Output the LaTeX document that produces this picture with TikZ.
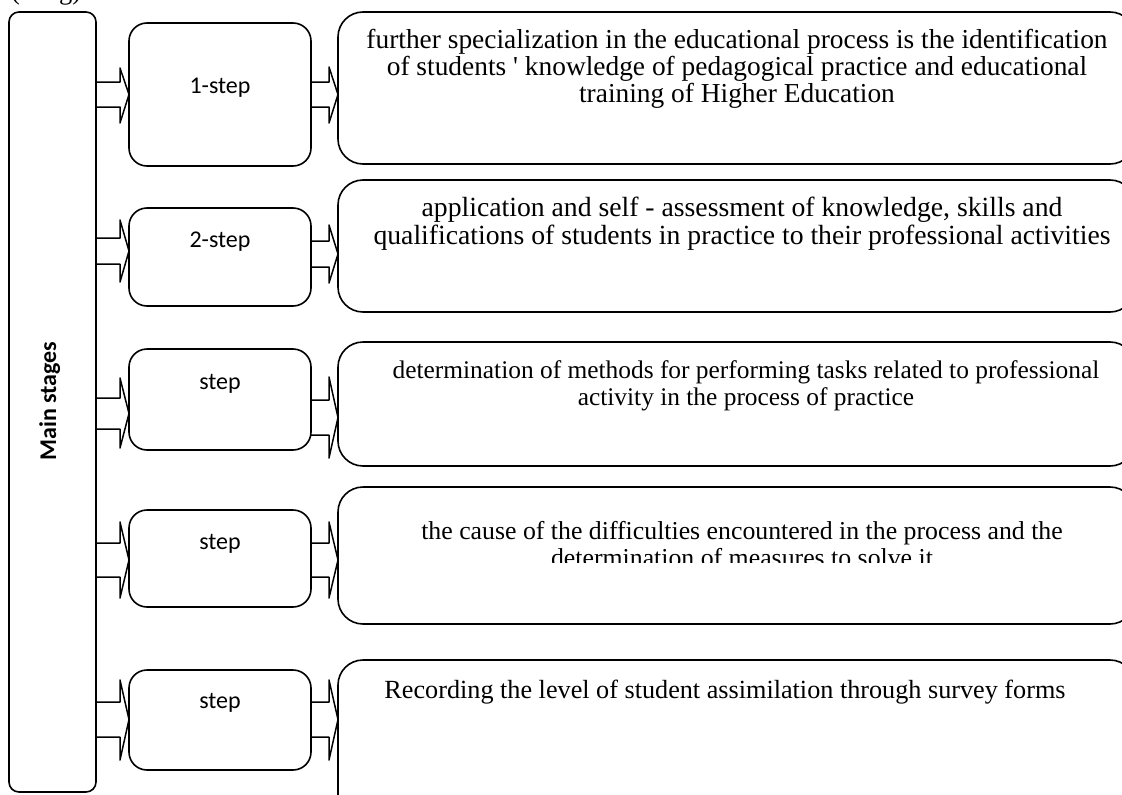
\documentclass[tikz,border=0pt]{standalone}
\usepackage{fontspec}
\setmainfont{Liberation Serif}
\newfontfamily\labelfont{Carlito}
\usetikzlibrary{calc}

% block arrow from the east side of #1 to the west side of #2
% #3/#4: shaft top/bottom, #5/#6: head top/bottom (y values)
\newcommand\blockarr[6]{%
  \pgfmathsetmacro\tipy{(#3+#4)/2}%
  \draw[arrowline] (#1.east |- 0,#3) -- ($(#2.west |- 0,#3)+(-9,0)$)
    -- ($(#2.west |- 0,#5)+(-9,0)$) -- (#2.west |- 0,\tipy)
    -- ($(#2.west |- 0,#6)+(-9,0)$) -- ($(#2.west |- 0,#4)+(-9,0)$)
    -- (#1.east |- 0,#4);
}

\begin{document}
\begin{tikzpicture}[x=1pt,y=-1pt,
  box/.style={draw=black, line width=1.6pt, inner sep=0pt, outer sep=0pt},
  mainbox/.style={box, rounded corners=10pt, minimum width=87pt},
  stepbox/.style={box, rounded corners=18pt, minimum width=182pt},
  textbox/.style={box, rounded corners=25pt, minimum width=797pt, anchor=north west},
  steplabel/.style={font=\labelfont\fontsize{24}{28}\selectfont, anchor=base, inner sep=0pt},
  boxtext/.style={align=center, anchor=north, inner sep=0pt},
  arrowline/.style={draw=black, line width=1.5pt, line join=round},
]
\useasboundingbox (0,0) rectangle (1122,795);
\clip (0,0) rectangle (1122,795);

% caption fragment at the top edge
\node[font=\fontsize{26.5}{28}\selectfont, anchor=base west, inner sep=0pt] (capa) at (11,-1) {(};
\node[font=\fontsize{26.5}{28}\selectfont, anchor=base west, inner sep=0pt] (capb) at (59,-1) {g)};

% main column
\node[mainbox, minimum height=780pt] (main) at (52.5,402) {};
\node[font=\labelfont\bfseries\fontsize{24}{28}\selectfont, rotate=90, anchor=base, inner sep=0pt] (maint) at (56,401) {Main stages};

% step boxes
\node[stepbox, minimum height=143pt] (s1) at (220,94.5) {};
\node[stepbox, minimum height=98pt]  (s2) at (220,257) {};
\node[stepbox, minimum height=101pt] (s3) at (220,399.5) {};
\node[stepbox, minimum height=97pt]  (s4) at (220,558.5) {};
\node[stepbox, minimum height=100pt] (s5) at (220,720) {};

\node[steplabel] (s1t) at (220,93) {1-step};
\node[steplabel] (s2t) at (220,247) {2-step};
\node[steplabel] (s3t) at (220,389) {step};
\node[steplabel] (s4t) at (220,549) {step};
\node[steplabel] (s5t) at (220,708) {step};

% description boxes
\node[textbox, minimum height=152pt] (t1) at (338,12) {};
\node[textbox, minimum height=132pt] (t2) at (338,180) {};
\node[textbox, minimum height=124pt] (t3) at (338,342) {};
\node[textbox, minimum height=137pt] (t4) at (338,487) {};
\node[textbox, minimum height=180pt] (t5) at (338,660) {};

\node[boxtext, font=\fontsize{27.4}{27}\selectfont] (t1t) at (737,29) {further specialization in the educational process is the identification\\
  of students \textquotesingle{} knowledge of pedagogical practice and educational\\
  training of Higher Education};
\node[boxtext, font=\fontsize{27.7}{28}\selectfont] (t2t) at (742,197) {application and self - assessment of knowledge, skills and\\
  qualifications of students in practice to their professional activities};
\node[boxtext, font=\fontsize{25.4}{27}\selectfont] (t3t) at (746,360) {determination of methods for performing tasks related to professional\\
  activity in the process of practice};
\begin{scope}
  % the second line is cut off along its baseline
  \clip (340,490) rectangle (1120,562);
  \node[boxtext, font=\fontsize{25.8}{27.5}\selectfont] (t4t) at (742,521) {the cause of the difficulties encountered in the process and the\\
    determination of measures to solve it};
\end{scope}
\node[boxtext, font=\fontsize{26.2}{28}\selectfont] (t5t) at (725,680) {Recording the level of student assimilation through survey forms};

% arrows: main column -> steps
\blockarr{main}{s1}{82}{107}{68}{123}
\blockarr{main}{s2}{238}{264}{220}{282}
\blockarr{main}{s3}{398}{429}{378}{448}
\blockarr{main}{s4}{543}{577}{522}{598}
\blockarr{main}{s5}{702}{737}{680}{760}

% arrows: steps -> descriptions
\blockarr{s1}{t1}{82}{107}{67}{123}
\blockarr{s2}{t2}{241}{267}{225}{283}
\blockarr{s3}{t3}{400}{435}{377}{458}
\blockarr{s4}{t4}{543}{577}{522}{598}
\blockarr{s5}{t5}{702}{737}{680}{760}
\end{tikzpicture}
\end{document}
